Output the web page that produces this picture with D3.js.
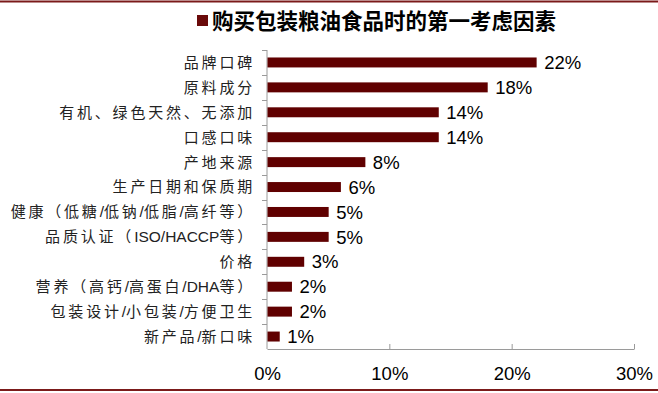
<!doctype html>
<html>
<head>
<meta charset="utf-8">
<title>购买包装粮油食品时的第一考虑因素</title>
<style>
body { margin:0; background:#fff; }
svg { display:block; }
.cat { font-family:"Noto Sans CJK SC", sans-serif; font-size:15px; fill:#222; }
.cat .cjk { letter-spacing:2.8px; }
.cat .lat { font-family:"Liberation Sans", Arial, sans-serif; font-size:15.5px; letter-spacing:0; }
.val, .tick text { font-family:"Liberation Sans", Arial, sans-serif; font-size:18.5px; fill:#000; }
</style>
</head>
<body>
<svg width="658" height="393" id="chart"></svg>
<script src="https://d3js.org/d3.v7.min.js"></script>
<script>
var categories = ["品牌口碑","原料成分","有机、绿色天然、无添加","口感口味","产地来源","生产日期和保质期",
  "健康（低糖/低钠/低脂/高纤等）","品质认证（ISO/HACCP等）","价格","营养（高钙/高蛋白/DHA等）",
  "包装设计/小包装/方便卫生","新产品/新口味"];
var values = [22, 18, 14, 14, 8, 6, 5, 5, 3, 2, 2, 1];
var xTicks = [0, 10, 20, 30];
var title = "购买包装粮油食品时的第一考虑因素";

var svg = d3.select("#chart"),
    width = +svg.attr("width"),
    height = +svg.attr("height");
var margin = {left:267, right:24, top:50, bottom:44};

// frame lines top and bottom
svg.append("line").attr("x1",0).attr("x2",width).attr("y1",1.5).attr("y2",1.5)
  .attr("stroke","#7b1a1a").attr("stroke-width",2);
svg.append("line").attr("x1",0).attr("x2",width).attr("y1",390).attr("y2",390)
  .attr("stroke","#7b1a1a").attr("stroke-width",2);

// title with square marker
svg.append("rect").attr("x",197).attr("y",15).attr("width",11).attr("height",11).attr("fill","#6a0a0a");
svg.append("text").attr("x",212).attr("y",28.5)
  .style("font-family","\"Noto Sans CJK SC\", sans-serif").style("font-size","21.5px").style("font-weight","700")
  .text(title);

var x = d3.scaleLinear().domain([0,30]).range([margin.left, width - margin.right]);
var y = d3.scaleBand().domain(categories).range([margin.top, height - margin.bottom]).paddingInner(0.6).paddingOuter(0.3);

// axes
var xAxis = svg.append("g").attr("transform","translate(0," + (height - margin.bottom) + ")")
  .call(d3.axisBottom(x).tickValues(xTicks).tickSize(-5).tickSizeOuter(0)
    .tickFormat(function(d){ return d + "%"; }));
xAxis.select(".domain").attr("stroke","#9a9a9a");
xAxis.selectAll(".tick line").attr("stroke","#9a9a9a").filter(function(d){ return d === 0; }).remove();
xAxis.selectAll(".tick text").attr("dy","0").attr("y",31);

// y axis line and category separator ticks
svg.append("line").attr("x1",margin.left).attr("x2",margin.left)
  .attr("y1",margin.top).attr("y2",height - margin.bottom).attr("stroke","#9a9a9a");
svg.selectAll(".sep").data(d3.range(categories.length)).enter().append("line")
  .attr("x1",margin.left - 5).attr("x2",margin.left)
  .attr("y1",function(i){ return Math.round(margin.top + i * (height - margin.bottom - margin.top) / categories.length) + 0.5; })
  .attr("y2",function(i){ return Math.round(margin.top + i * (height - margin.bottom - margin.top) / categories.length) + 0.5; })
  .attr("stroke","#9a9a9a");

// bars
svg.selectAll(".bar").data(values).enter().append("rect")
  .attr("x", x(0) + 0.5)
  .attr("y", function(d,i){ return y(categories[i]); })
  .attr("width", function(d){ return x(d) - x(0); })
  .attr("height", y.bandwidth())
  .attr("fill","#600000");

// value labels
svg.selectAll(".val").data(values).enter().append("text").attr("class","val")
  .attr("x", function(d){ return x(d) + 8; })
  .attr("y", function(d,i){ return y(categories[i]) + y.bandwidth()/2; })
  .attr("dy","0.36em")
  .text(function(d){ return d + "%"; });

// category labels: CJK runs spaced out, latin runs tight
function runs(s) {
  return s.match(/[A-Za-z0-9\/]+|[^A-Za-z0-9\/]+/g);
}
svg.selectAll(".cat").data(categories).enter().append("text").attr("class","cat")
  .attr("x", 255)
  .attr("y", function(d){ return y(d) + y.bandwidth()/2; })
  .attr("dy","0.36em")
  .attr("text-anchor","end")
  .each(function(d){
    var t = d3.select(this);
    runs(d).forEach(function(r){
      t.append("tspan").attr("class", /[A-Za-z0-9\/]/.test(r) ? "lat" : "cjk").text(r);
    });
  });
</script>
</body>
</html>
